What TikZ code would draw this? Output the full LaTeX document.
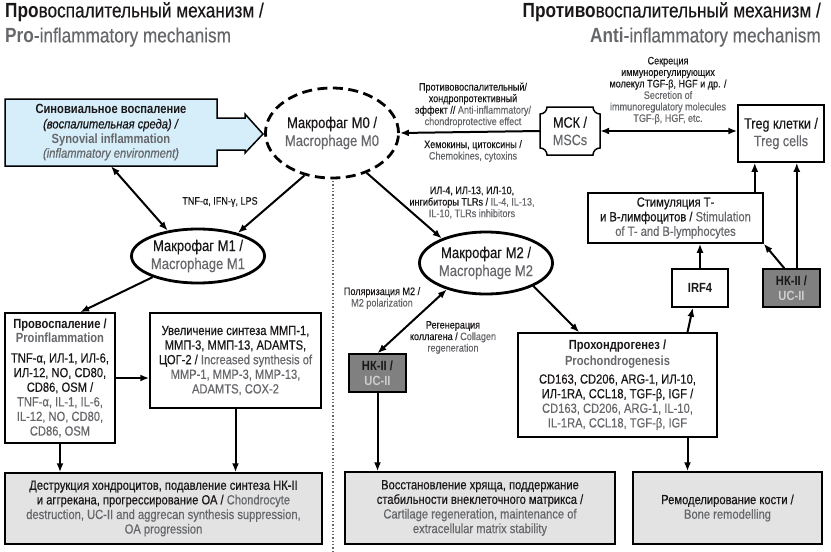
\documentclass[tikz,border=0pt]{standalone}
\usepackage{fontspec}
\setmainfont{Liberation Sans}[FakeStretch=0.84, UprightFeatures={FakeBold=0.35}, ItalicFeatures={FakeBold=0.35}]
\usetikzlibrary{arrows.meta,shapes.geometric,calc}

\definecolor{ink}{HTML}{1A1718}
\definecolor{engray}{HTML}{66676B}
\definecolor{synblue}{HTML}{D6EEF9}
\definecolor{boxgray}{HTML}{E3E3E3}
\definecolor{nkgray}{HTML}{808080}
\definecolor{nktext}{HTML}{CDCDCD}

\newcommand{\eng}[1]{{\color{engray}#1}}

\tikzset{
  boxtxt/.style={font=\fontsize{13.3}{14.6}\selectfont, text=ink, align=center},
  box/.style={draw, line width=1.5pt, fill=white, boxtxt, inner sep=1pt},
  graybox/.style={box, fill=boxgray},
  nkbox/.style={box, fill=nkgray, font=\fontsize{13.3}{14.6}\selectfont\bfseries},
  cell/.style={ellipse, draw, line width=2.8pt, fill=white, text=ink, align=center,
    font=\fontsize{15.5}{18}\selectfont, inner sep=0pt},
  lbl/.style={font=\fontsize{10.8}{11.5}\selectfont, text=ink, align=center, inner sep=0pt},
  arr/.style={line width=2pt, -{Latex[length=9pt,width=7pt]}},
  darr/.style={line width=2pt, {Latex[length=9pt,width=7pt]}-{Latex[length=9pt,width=7pt]}},
}

\begin{document}
\begin{tikzpicture}[x=1pt,y=-1pt]
	\useasboundingbox (0,0) rectangle (831,552);

	%titles
	\node[anchor=north west, inner sep=0pt, align=left, text=ink,
	  font=\fontsize{20.5}{25}\selectfont] (titlepro) at (5,2)
	  {\textbf{Про}воспалительный механизм /\\ \eng{\textbf{Pro}-inflammatory mechanism}};
	\node[anchor=north east, inner sep=0pt, align=right, text=ink,
	  font=\fontsize{20.5}{25}\selectfont] (titleanti) at (821,2)
	  {\textbf{Противо}воспалительный механизм /\\ \eng{\textbf{Anti}-inflammatory mechanism}};

	%separator
	\draw[engray, dotted, line width=1.3pt] (333,181) -- (333,552);

	%synovial inflammation arrow
	\draw[fill=synblue, line width=1.5pt] (5,99) -- (217,99) -- (217,118) -- (245,118) -- (245,114)
	  -- (263,134) -- (245,153) -- (245,150) -- (217,150) -- (217,166) -- (5,166) -- cycle;
	\node[boxtxt, minimum width=212pt, minimum height=67pt] (syn) at (111,132.5)
	  {\textbf{Синовиальное воспаление}\\ \textit{(воспалительная среда) /}\\
	   \eng{\textbf{Synovial inflammation}}\\ \eng{\textit{(inflammatory environment)}}};

	%macrophages
	\node[cell, dash pattern=on 10pt off 5.5pt, minimum width=130pt, minimum height=90pt] (m0) at (332,133)
	  {Макрофаг М0 /\\ \eng{Macrophage M0}};
	\node[cell, minimum width=127pt, minimum height=54pt] (m1) at (198,256)
	  {Макрофаг М1 /\\ \eng{Macrophage M1}};
	\node[cell, minimum width=132pt, minimum height=62pt] (m2) at (486,263)
	  {Макрофаг М2 /\\ \eng{Macrophage M2}};

	%MSCs
	\node[boxtxt, font=\fontsize{15}{17.5}\selectfont, minimum width=60pt, minimum height=48pt] (msc) at (570,131)
	  {МСК /\\ \eng{MSCs}};
	\draw[line width=1.5pt] (547,107) -- (593,107) arc[start angle=180, end angle=90, radius=7]
	  -- (600,148) arc[start angle=270, end angle=180, radius=7]
	  -- (547,155) arc[start angle=360, end angle=270, radius=7]
	  -- (540,114) arc[start angle=90, end angle=0, radius=7] -- cycle;

	%boxes right
	\node[box, font=\fontsize{15}{17.5}\selectfont, minimum width=86pt, minimum height=57pt] (treg) at (781,133.5)
	  {Treg клетки /\\ \eng{Treg cells}};
	\node[box, minimum width=175pt, minimum height=50pt] (stim) at (675.5,218)
	  {Стимуляция Т-\\ и В-лимфоцитов / \eng{Stimulation}\\ \eng{of T- and B-lymphocytes}};
	\node[box, font=\fontsize{13.3}{14.6}\selectfont\bfseries, minimum width=56pt, minimum height=38pt] (irf) at (700,288) {IRF4};
	\node[nkbox, minimum width=57pt, minimum height=38pt] (nkr) at (791.5,288)
	  {НК-II /\\ {\color{nktext}UC-II}};
	\node[nkbox, minimum width=57pt, minimum height=38pt] (nkl) at (377.5,373)
	  {НК-II /\\ {\color{nktext}UC-II}};
	\node[box, minimum width=199pt, minimum height=104pt] (pro) at (617.5,385)
	  {\textbf{Прохондрогенез /}\\[1pt] \eng{\textbf{Prochondrogenesis}}\\[4pt]
	   CD163, CD206, ARG-1, ИЛ-10,\\ ИЛ-1RA, CCL18, TGF-β, IGF /\\
	   \eng{CD163, CD206, ARG-1, IL-10,}\\ \eng{IL-1RA, CCL18, TGF-β, IGF}};

	%boxes left
	\node[box, minimum width=110pt, minimum height=130pt] (pinfl) at (60,378)
	  {\textbf{Провоспаление /}\\ \eng{\textbf{Proinflammation}}\\[5pt]
	   TNF-α, ИЛ-1, ИЛ-6,\\ ИЛ-12, NO, CD80,\\ CD86, OSM /\\
	   \eng{TNF-α, IL-1, IL-6,}\\ \eng{IL-12, NO, CD80,}\\ \eng{CD86, OSM}};
	\node[box, minimum width=171pt, minimum height=95pt] (incr) at (235.5,360.5)
	  {Увеличение синтеза ММП-1,\\ ММП-3, ММП-13, ADAMTS,\\ ЦОГ-2 / \eng{Increased synthesis of}\\
	   \eng{MMP-1, MMP-3, MMP-13,}\\ \eng{ADAMTS, COX-2}};

	%outcomes
	\node[graybox, minimum width=317pt, minimum height=71pt] (outl) at (163.5,508.5)
	  {Деструкция хондроцитов, подавление синтеза НК-II\\ и аггрекана, прогрессирование ОА / \eng{Chondrocyte}\\
	   \eng{destruction, UC-II and aggrecan synthesis suppression,}\\ \eng{OA progression}};
	\node[graybox, minimum width=270pt, minimum height=72pt] (outm) at (480,508)
	  {Восстановление хряща, поддержание\\ стабильности внеклеточного матрикса /\\
	   \eng{Cartilage regeneration, maintenance of}\\ \eng{extracellular matrix stability}};
	\node[graybox, minimum width=189pt, minimum height=72pt] (outr) at (727.5,508)
	  {Ремоделирование кости /\\ \eng{Bone remodelling}};

	%labels
	\node[lbl] (lblanti) at (473,105)
	  {Противовоспалительный/\\ хондропротективный\\ эффект // \eng{Anti-inflammatory/}\\ \eng{chondroprotective effect}};
	\node[lbl] (lblchem) at (473,151) {Хемокины, цитоксины /\\ \eng{Chemokines, cytoxins}};
	\node[lbl] (lblsecr) at (668,90.5)
	  {Секреция\\ иммунорегулирующих\\ молекул TGF-β, HGF и др. /\\
	   \eng{Secretion of}\\ \eng{immunoregulatory molecules}\\ \eng{TGF-β, HGF, etc.}};
	\node[lbl] (lbltnf) at (220,202) {TNF-α, IFN-γ, LPS};
	\node[lbl] (lblil) at (472,202.5)
	  {ИЛ-4, ИЛ-13, ИЛ-10,\\ ингибиторы TLRs / \eng{IL-4, IL-13,}\\ \eng{IL-10, TLRs inhibitors}};
	\node[lbl] (lblpol) at (382,298) {Поляризация М2 /\\ \eng{M2 polarization}};
	\node[lbl] (lblreg) at (453,337.5) {Регенерация\\ коллагена / \eng{Collagen}\\ \eng{regeneration}};

	%connectors
	\draw[arr] (msc.west) -- (m0.east);
	\draw[darr] (msc.east) -- (msc.east -| treg.west);
	\draw[darr] (syn.south) -- (m1.140);
	\draw[arr] (m0.237) -- (m1.30);
	\draw[arr] (m0.311) -- (m2.151);
	\draw[darr] (m2.214) -- (nkl.north);
	\draw[arr] (m2.334) -- (pro.126);
	\draw[arr] (pro.37) -- (irf.250);
	\draw[arr] (irf.north) -- (irf.north |- stim.south);
	\coordinate (tregin) at ($(treg.south west)!0.2!(treg.south east)$);
	\draw[arr] (tregin |- stim.north) -- (tregin);
	\draw[arr] (nkr.110) -- (stim.south east);
	\draw[arr] (nkr.75) -- (nkr.75 |- treg.south);
	\draw[arr] (m1.205) -- (pinfl.73);
	\draw[arr] (pinfl.east) -- (pinfl.east -| incr.west);
	\draw[arr] (pinfl.south) -- (pinfl.south |- outl.north);
	\draw[arr] (incr.south) -- (incr.south |- outl.north);
	\draw[arr] (nkl.south) -- (nkl.south |- outm.north);
	\draw[arr] (pro.323) -- (pro.323 |- outr.north);
\end{tikzpicture}
\end{document}
